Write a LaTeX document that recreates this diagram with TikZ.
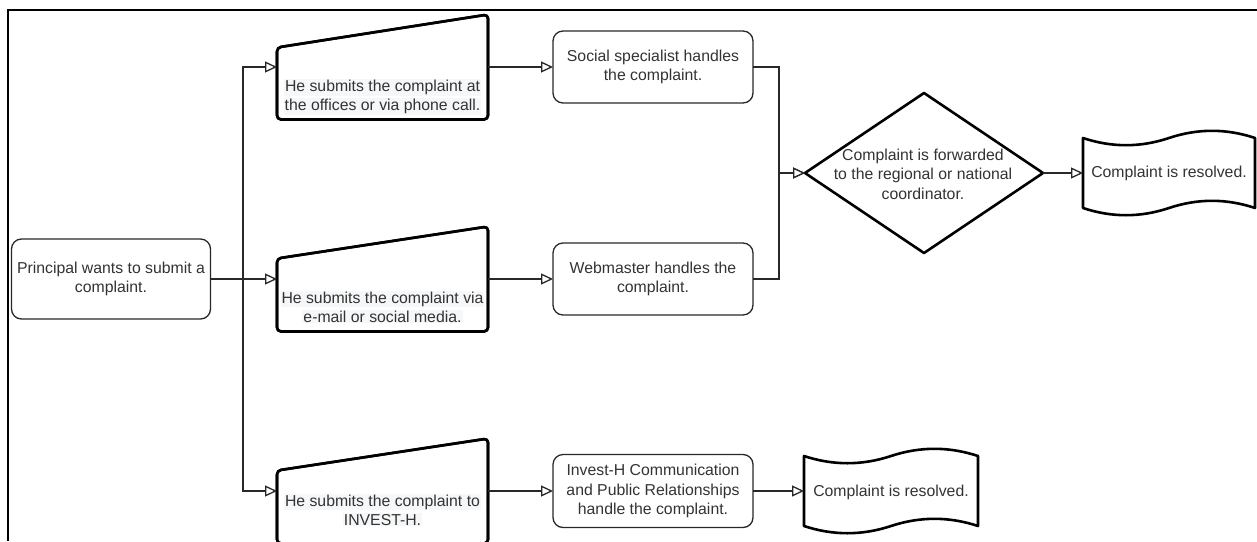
\documentclass[tikz,border=0pt]{standalone}
\usepackage{fontspec}
\setmainfont{Liberation Sans}
\usetikzlibrary{arrows.meta,calc}
\definecolor{txt}{RGB}{51,51,51}
\definecolor{edgec}{RGB}{40,40,40}
\definecolor{hl}{RGB}{246,247,249}
\newcommand{\hlline}[1]{{\setlength{\fboxsep}{1pt}\colorbox{hl}{#1}}}
\newcommand{\tapeoutline}[2]{%
 \draw[heavy] ($(#1.north west)+(0,8)$)
   .. controls ($(#1.north west)+({#2/6},17.6)$) and ($(#1.north west)+({#2/3},17.6)$) .. ($(#1.north west)+({#2/2},8)$)
   .. controls ($(#1.north west)+({2*#2/3},-1.6)$) and ($(#1.north west)+({5*#2/6},-1.6)$) .. ($(#1.north east)+(0,8)$)
   -- ($(#1.south east)+(0,-8)$)
   .. controls ($(#1.south east)+({-#2/6},-17.6)$) and ($(#1.south east)+({-#2/3},-17.6)$) .. ($(#1.south east)+({-#2/2},-8)$)
   .. controls ($(#1.south east)+({-2*#2/3},1.6)$) and ($(#1.south east)+({-5*#2/6},1.6)$) .. ($(#1.south west)+(0,-8)$)
   -- cycle;}
\newcommand{\trapoutline}[3]{%
 \draw[heavy, rounded corners=4pt, #3] (#1.south west) -- ($(#1.north west)+(0,#2)$) -- (#1.north east) -- (#1.south east) -- cycle;}
\begin{document}
\begin{tikzpicture}[x=1pt,y=-1pt,
  every node/.style={font=\fontsize{15.8}{19.5}\selectfont, text=txt, align=center, inner sep=0pt, outer sep=0pt},
  rbox/.style={draw=edgec, line width=1.3pt, rounded corners=10pt, fill=white},
  heavy/.style={draw=black, line width=2.6pt, line join=round, fill=white},
  bound/.style={draw=none, minimum width=#1},
  conn/.style={draw=edgec, line width=1.3pt, -{Triangle[length=12pt,width=11pt,fill=white]}}
]
\useasboundingbox (0,0) rectangle (1257,541);
\fill[white] (0,0) rectangle (1257,541);
\draw[line width=2pt] (1257,10) -- (8,10) -- (8,541);

% start
\node[rbox, minimum width=199pt, minimum height=80pt] (pr) at (111,279) {Principal wants to submit a\\complaint.};

% manual input shapes
\node[bound=211pt, minimum height=105pt] (t1) at (382.5,67) {};
\node[bound=211pt, minimum height=105pt] (t2) at (382.5,279) {};
\node[bound=211pt, minimum height=105pt] (t3) at (382.5,491) {};
\trapoutline{t1}{33}{}
\trapoutline{t2}{32}{}
\trapoutline{t3}{32}{}
\node[font=\fontsize{15.8}{19}\selectfont] (t1t) at (382.5,97) {\hlline{He submits the complaint at}\\\hlline{the offices or via phone call.}};
\node[font=\fontsize{15.8}{19}\selectfont] (t2t) at (382.5,307) {\hlline{He submits the complaint via}\\\hlline{e-mail or social media.}};
\node[font=\fontsize{15.8}{19}\selectfont] (t3t) at (382.5,510) {\hlline{He submits the complaint to}\\\hlline{INVEST-H.}};
\trapoutline{t1}{33}{fill=none}
\trapoutline{t2}{32}{fill=none}
\trapoutline{t3}{32}{fill=none}

% handlers
\node[rbox, minimum width=200pt, minimum height=72pt] (soc) at (653,67) {Social specialist handles\\the complaint.};
\node[rbox, minimum width=200pt, minimum height=72pt] (web) at (653,279) {Webmaster handles the\\complaint.};
\node[rbox, minimum width=200pt, minimum height=73pt] (inv) at (653,491) {Invest-H Communication\\and Public Relationships\\handle the complaint.};

% decision
\node[bound=238pt, minimum height=160pt] (dia) at (924,173) {};
\draw[heavy] (dia.west) -- (dia.north) -- (dia.east) -- (dia.south) -- cycle;
\node (diat) at (923,174) {Complaint is forwarded\\to the regional or national\\coordinator.};

% tapes
\node[bound=172pt, minimum height=86pt] (d1) at (1169,173) {};
\node[bound=174pt, minimum height=86pt] (d2) at (891,491) {};
\tapeoutline{d1}{172}
\tapeoutline{d2}{174}
\node (d1t) at (1169,173) {Complaint is resolved.};
\node (d2t) at (891,492) {Complaint is resolved.};

% connectors
\coordinate (jx) at (243,279);
\coordinate (mx) at (779,173);
\draw[conn] (pr.east) -- (t2.west);
\draw[conn] (pr.east) -- (jx) |- (t1.west);
\draw[conn] (pr.east) -- (jx) |- (t3.west);
\draw[conn] (t1.east) -- (soc.west);
\draw[conn] (t2.east) -- (web.west);
\draw[conn] (t3.east) -- (inv.west);
\draw[conn] (soc.east) -| (mx) -- (dia.west);
\draw[conn] (web.east) -| (mx) -- (dia.west);
\draw[conn] (dia.east) -- (d1.west);
\draw[conn] (inv.east) -- (d2.west);
\end{tikzpicture}
\end{document}
